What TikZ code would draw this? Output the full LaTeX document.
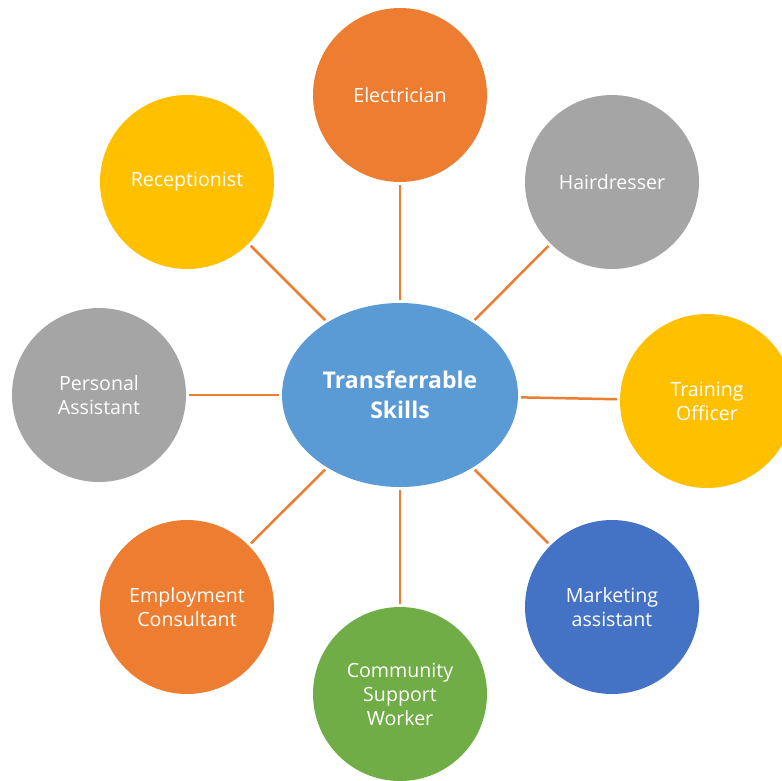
\documentclass[tikz,border=0pt]{standalone}
\usepackage{fontspec}
\setmainfont{Open Sans}
\usetikzlibrary{shapes.geometric}
\definecolor{cOrange}{HTML}{ED7D31}
\definecolor{cGray}{HTML}{A5A5A5}
\definecolor{cYellow}{HTML}{FFC000}
\definecolor{cBlue}{HTML}{4472C4}
\definecolor{cGreen}{HTML}{70AD47}
\definecolor{cCenter}{HTML}{5B9BD5}
\begin{document}
\begin{tikzpicture}[x=1pt,y=-1pt,
  job/.style={circle,minimum size=174pt,inner sep=0pt,text=white,align=center,
    font=\fontsize{19.6}{24}\selectfont},
  hub/.style={ellipse,minimum width=236pt,minimum height=184pt,inner sep=0pt,
    fill=cCenter,text=white,align=center,font=\fontsize{23}{30}\selectfont\bfseries},
  link/.style={draw=cOrange,line width=2.5pt,shorten <=3pt,shorten >=3pt}]
\useasboundingbox (0,0) rectangle (782,780);
\node[hub] (c) at (400,395) {Transferrable\\Skills};
\node[job,fill=cOrange] (el) at (400,95) {Electrician};
\node[job,fill=cGray] (ha) at (612,182) {Hairdresser};
\node[job,fill=cYellow] (tr) at (707,401) {Training\\Officer};
\node[job,fill=cBlue] (ma) at (612,607) {Marketing\\assistant};
\node[job,fill=cGreen] (co) at (400,694) {Community\\Support\\Worker};
\node[job,fill=cOrange] (em) at (187,607) {Employment\\Consultant};
\node[job,fill=cGray] (pa) at (99,395) {Personal\\Assistant};
\node[job,fill=cYellow] (re) at (187,182) {Receptionist};
\foreach \n in {el,ha,tr,ma,co,em,pa,re}
  \draw[link] (c) -- (\n);
\end{tikzpicture}
\end{document}
